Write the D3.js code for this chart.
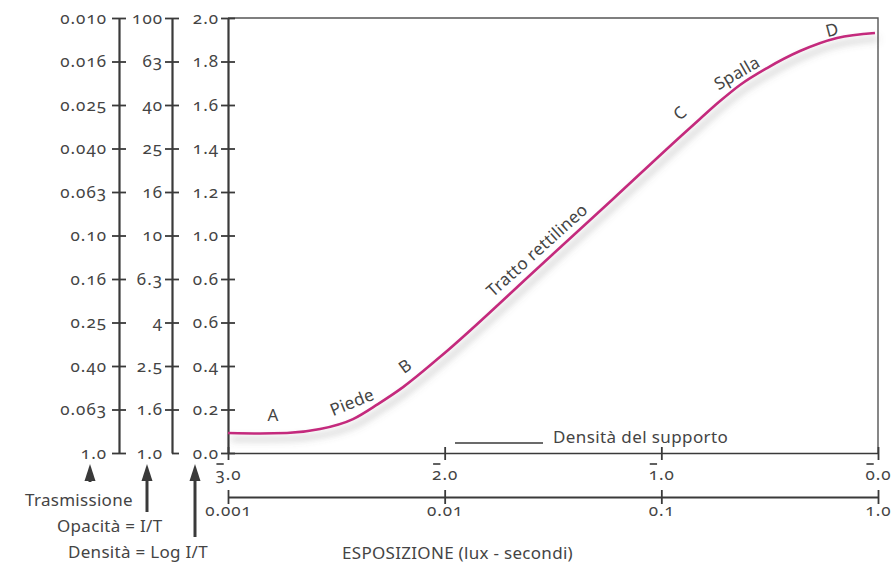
<!DOCTYPE html>
<html>
<head>
<meta charset="utf-8">
<script src="https://cdn.jsdelivr.net/npm/d3@7/dist/d3.min.js"></script>
<style>
  body { margin: 0; background: #fff; }
  svg text { font-family: "Noto Sans", "Open Sans", sans-serif; fill: #444; font-variant-numeric: oldstyle-nums; }
  .axis path, .axis line { stroke: #3a3a3a; }
</style>
</head>
<body>
<div id="chart"></div>
<script>
// density ticks shared by the three left scales
var densityTicks = [2.0, 1.8, 1.6, 1.4, 1.2, 1.0, 0.8, 0.6, 0.4, 0.2, 0.0];
var densityLabels = ["2.0", "1.8", "1.6", "1.4", "1.2", "1.0", "0.6", "0.6", "0.4", "0.2", "0.0"];
var opacityLabels = ["100", "63", "40", "25", "16", "10", "6.3", "4", "2.5", "1.6", "1.0"];
var transmissionLabels = ["0.010", "0.016", "0.025", "0.040", "0.063", "0.10", "0.16", "0.25", "0.40", "0.063", "1.0"];

// log exposure axis (bar notation) and exposure axis
var logExpTicks = [-3, -2, -1, 0];
var logExpLabels = ["3.0", "2.0", "1.0", "0.0"];
var expTicks = [0.001, 0.01, 0.1, 1];
var expLabels = ["0.001", "0.01", "0.1", "1.0"];

// characteristic curve
var curveLogE = [-3.0, -2.852, -2.728, -2.575, -2.423, -2.308, -2.192, -2.022, -1.56, -1.223, -0.914, -0.822, -0.729, -0.637, -0.512, -0.36, -0.189, -0.014];
var curveDensity = [0.092, 0.09, 0.092, 0.11, 0.156, 0.225, 0.303, 0.441, 0.86, 1.168, 1.453, 1.536, 1.618, 1.692, 1.77, 1.848, 1.908, 1.931];

// labels along the curve
var noteText = ["A", "Piede", "B", "Tratto rettilineo", "C", "Spalla", "D"];
var noteLogE = [-2.792, -2.428, -2.183, -1.574, -0.914, -0.651, -0.212];
var noteDensity = [0.175, 0.234, 0.40, 0.933, 1.563, 1.747, 1.945];
var noteAngle = [0, -22, -36, -42, -42, -30, -15];

var width = 893, height = 567;
var x0 = 228, x1 = 878, yTop = 18, yBot = 453;

var svg = d3.select("#chart").append("svg")
    .attr("width", width)
    .attr("height", height);

var defs = svg.append("defs");
var shadow = defs.append("filter").attr("id", "shadow")
    .attr("x", "-10%").attr("y", "-10%").attr("width", "130%").attr("height", "140%");
shadow.append("feDropShadow")
    .attr("dx", 3).attr("dy", 6).attr("stdDeviation", 3.5)
    .attr("flood-color", "#666").attr("flood-opacity", 0.5);

var yScale = d3.scaleLinear().domain([0, 2]).range([yBot, yTop]);
var xScale = d3.scaleLinear().domain([-3, 0]).range([x0, x1]);
var expScale = d3.scaleLog().domain([0.001, 1]).range([x0, x1]);

// frame top and right
svg.append("path")
    .attr("d", "M" + x0 + "," + yTop + "H" + x1 + "V" + yBot)
    .attr("fill", "none")
    .attr("stroke", "#555")
    .attr("stroke-width", 1.4);

function styleLabels(sel) {
  sel.attr("font-size", 17)
      .style("font-family", "'Noto Sans', sans-serif")
      .style("letter-spacing", "1px")
      .attr("fill", "#444");
}

// three left axes
function leftAxis(xPos, labels, pad, halfTickBottom) {
  var axis = d3.axisLeft(yScale)
      .tickValues(densityTicks)
      .tickFormat(function(d, i) { return labels[i]; })
      .tickSizeInner(7)
      .tickSizeOuter(0)
      .tickPadding(pad);
  var g = svg.append("g")
      .attr("class", "axis")
      .attr("transform", "translate(" + xPos + ",0)")
      .call(axis);
  g.select(".domain").attr("stroke-width", 2.2);
  g.selectAll(".tick line")
      .attr("x1", function(d) { return (halfTickBottom && d === 0) ? 0 : -7; })
      .attr("x2", 7)
      .attr("stroke-width", 1.8);
  styleLabels(g.selectAll(".tick text"));
  return g;
}
leftAxis(119, transmissionLabels, 5, false);
leftAxis(172, opacityLabels, 2, true);
leftAxis(228, densityLabels, 2, false);

// log exposure axis along the bottom of the plot
var logAxis = d3.axisBottom(xScale)
    .tickValues(logExpTicks)
    .tickFormat(function(d, i) { return logExpLabels[i]; })
    .tickSizeOuter(0)
    .tickPadding(9);
var gLog = svg.append("g")
    .attr("class", "axis")
    .attr("transform", "translate(0," + yBot + ")")
    .call(logAxis);
gLog.select(".domain").attr("stroke-width", 1.6);
gLog.selectAll(".tick line").attr("y1", -6).attr("y2", 7).attr("stroke-width", 1.8);
styleLabels(gLog.selectAll(".tick text"));

// bars over the first digit (negative characteristic)
gLog.selectAll(".tick text").each(function() {
  var box = this.getExtentOfChar(0);
  var tick = d3.select(this.parentNode);
  tick.append("line")
      .attr("x1", box.x + 1)
      .attr("x2", box.x + box.width - 2)
      .attr("y1", 11)
      .attr("y2", 11)
      .attr("stroke", "#3a3a3a")
      .attr("stroke-width", 1.6);
});

// exposure axis
var expAxis = d3.axisBottom(expScale)
    .tickValues(expTicks)
    .tickFormat(function(d, i) { return expLabels[i]; })
    .tickSizeOuter(0)
    .tickPadding(1);
var gExp = svg.append("g")
    .attr("class", "axis")
    .attr("transform", "translate(0,497)")
    .call(expAxis);
gExp.select(".domain").attr("stroke-width", 2.2);
gExp.selectAll(".tick line").attr("y1", -7).attr("y2", 7).attr("stroke-width", 1.8);
styleLabels(gExp.selectAll(".tick text"));

// the curve
var curveData = curveLogE.map(function(d, i) { return {e: d, D: curveDensity[i]}; });
var line = d3.line()
    .x(function(d) { return xScale(d.e); })
    .y(function(d) { return yScale(d.D); })
    .curve(d3.curveMonotoneX);

svg.append("path")
    .datum(curveData)
    .attr("d", line)
    .attr("fill", "none")
    .attr("stroke", "#c42a7d")
    .attr("stroke-width", 2.6)
    .attr("filter", "url(#shadow)");

// labels along the curve
noteText.forEach(function(t, i) {
  var px = xScale(noteLogE[i]), py = yScale(noteDensity[i]);
  svg.append("text")
      .attr("transform", "translate(" + px + "," + py + ") rotate(" + noteAngle[i] + ")")
      .attr("text-anchor", "middle")
      .attr("dy", "0.35em")
      .attr("font-size", 17)
      .style("letter-spacing", "0.3px")
      .text(t);
});

// base density marker
svg.append("line")
    .attr("x1", 455).attr("x2", 543)
    .attr("y1", 443).attr("y2", 443)
    .attr("stroke", "#3a3a3a")
    .attr("stroke-width", 1.6);
svg.append("text")
    .attr("x", 553).attr("y", 443)
    .attr("font-size", 17)
    .style("letter-spacing", "0.4px")
    .text("Densità del supporto");

// arrows pointing to the left scales
var arrows = [{x: 90, y2: 482}, {x: 147, y2: 512}, {x: 195, y2: 537}];
arrows.forEach(function(a) {
  svg.append("line")
      .attr("x1", a.x).attr("x2", a.x)
      .attr("y1", 475).attr("y2", a.y2)
      .attr("stroke", "#3a3a3a")
      .attr("stroke-width", 3);
  svg.append("path")
      .attr("d", "M" + a.x + ",464L" + (a.x - 5.5) + ",481L" + (a.x + 5.5) + ",481Z")
      .attr("fill", "#3a3a3a");
});

function caption(x, y, t) {
  svg.append("text").attr("x", x).attr("y", y)
      .attr("font-size", 17)
      .style("letter-spacing", "0.3px")
      .text(t);
}
caption(25, 506, "Trasmissione");
caption(57, 532, "Opacità = I/T");
caption(68, 558, "Densità = Log I/T");
caption(342, 559, "ESPOSIZIONE (lux - secondi)");
</script>
</body>
</html>
